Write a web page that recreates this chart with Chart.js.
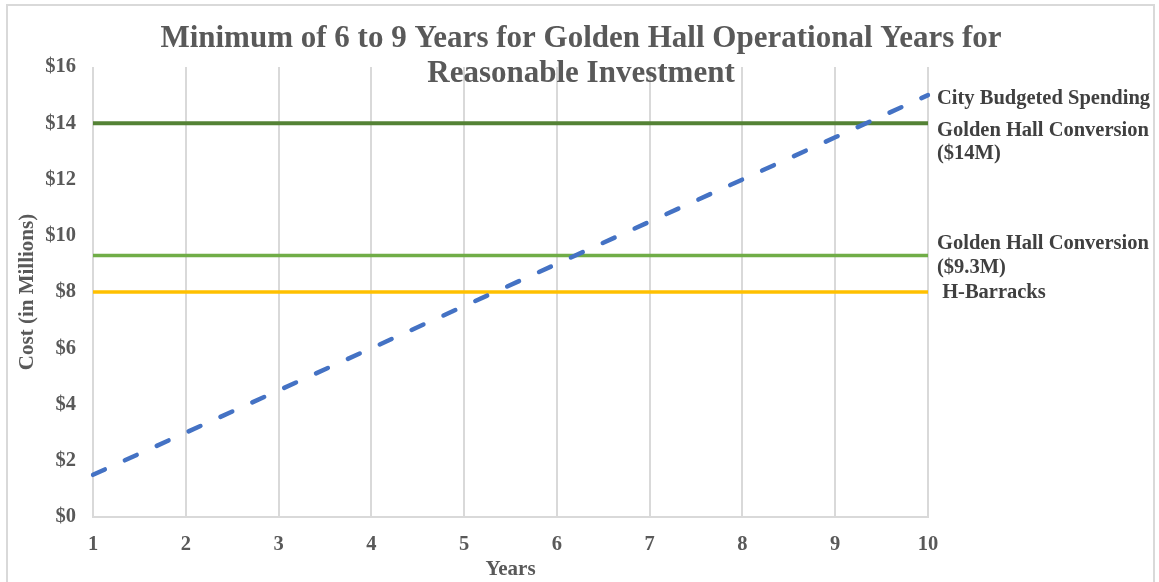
<!DOCTYPE html>
<html>
<head>
<meta charset="utf-8">
<script src="https://cdn.jsdelivr.net/npm/chart.js@4/dist/chart.umd.min.js"></script>
<style>
  html, body { margin: 0; padding: 0; background: #fff; }
  #wrap { position: relative; width: 1159px; height: 582px; overflow: hidden; }
  #frame { position: absolute; left: 6px; top: 4px; width: 1149px; height: 600px; border: 2px solid #d9d9d9; box-sizing: border-box; }
  canvas { position: absolute; left: 0; top: 0; }
</style>
</head>
<body>
<div id="wrap">
  <div id="frame"></div>
  <canvas id="chart" width="1159" height="582"></canvas>
</div>
<script>
// values
const years = ['1', '2', '3', '4', '5', '6', '7', '8', '9', '10'];
const cityBudget = [1.5, 3, 4.5, 6, 7.5, 9, 10.5, 12, 13.5, 15];
const conversion14 = [14, 14, 14, 14, 14, 14, 14, 14, 14, 14];
const conversion93 = [9.3, 9.3, 9.3, 9.3, 9.3, 9.3, 9.3, 9.3, 9.3, 9.3];
const hBarracks = [8, 8, 8, 8, 8, 8, 8, 8, 8, 8];
const yTicks = [0, 2, 4, 6, 8, 10, 12, 14, 16];

const titleLines = ['Minimum of 6 to 9 Years for Golden Hall Operational Years for', 'Reasonable Investment'];
const endLabels = [
  ['City Budgeted Spending'],
  ['Golden Hall Conversion', '($14M)'],
  ['Golden Hall Conversion', '($9.3M)'],
  [' H-Barracks']
];

const serif = '"Liberation Serif", "Times New Roman", serif';
const gray = '#595959';

// where each end label sits relative to its line (px)
const labelPlace = [
  { dy: 4, lh: 23 },
  { dy: 7, lh: 23 },
  { dy: -12, lh: 24 },
  { dy: 1, lh: 23 }
];

const titlePlugin = {
  id: 'bigTitle',
  afterDraw(chart) {
    const ctx = chart.ctx;
    ctx.save();
    ctx.font = 'bold 31px ' + serif;
    ctx.fillStyle = gray;
    ctx.textAlign = 'center';
    ctx.textBaseline = 'middle';
    ctx.fillText(titleLines[0], 581, 39);
    ctx.fillText(titleLines[1], 581, 74);
    ctx.restore();
  }
};

const endLabelPlugin = {
  id: 'endLabels',
  afterDatasetsDraw(chart) {
    const ctx = chart.ctx;
    const yScale = chart.scales.y;
    const x = chart.chartArea.right + 9;
    ctx.save();
    ctx.font = 'bold 20.5px ' + serif;
    ctx.fillStyle = '#404040';
    ctx.textAlign = 'left';
    ctx.textBaseline = 'middle';
    chart.data.datasets.forEach((ds, i) => {
      const last = ds.data[ds.data.length - 1];
      const y0 = yScale.getPixelForValue(last) + labelPlace[i].dy;
      endLabels[i].forEach((line, j) => {
        ctx.fillText(line, x, y0 + j * labelPlace[i].lh);
      });
    });
    ctx.restore();
  }
};

const data = {
  labels: years,
  datasets: [
    {
      label: 'City Budgeted Spending',
      data: cityBudget,
      borderColor: '#4472C4',
      borderWidth: 4.5,
      borderDash: [13, 22],
      borderCapStyle: 'round',
      pointRadius: 0,
      tension: 0
    },
    {
      label: 'Golden Hall Conversion ($14M)',
      data: conversion14,
      borderColor: '#548235',
      borderWidth: 4,
      pointRadius: 0
    },
    {
      label: 'Golden Hall Conversion ($9.3M)',
      data: conversion93,
      borderColor: '#70AD47',
      borderWidth: 3.5,
      pointRadius: 0
    },
    {
      label: 'H-Barracks',
      data: hBarracks,
      borderColor: '#FFC000',
      borderWidth: 3.5,
      pointRadius: 0
    }
  ]
};

const config = {
  type: 'line',
  data: data,
  options: {
    responsive: false,
    animation: false,
    layout: { padding: { left: 7, top: 67, right: 231, bottom: 0 } },
    plugins: {
      legend: { display: false },
      title: { display: false },
      tooltip: { enabled: false }
    },
    scales: {
      x: {
        offset: false,
        grid: { color: '#d9d9d9', lineWidth: 2, drawTicks: false },
        border: { color: '#d9d9d9', width: 2 },
        ticks: {
          color: gray,
          padding: 15,
          maxRotation: 0,
          font: { family: serif, size: 20.5, weight: 'bold' }
        },
        title: {
          display: true,
          text: 'Years',
          color: gray,
          padding: { top: 0, bottom: 0 },
          font: { family: serif, size: 21, weight: 'bold' }
        },
        afterFit(scale) { scale.height = 65; }
      },
      y: {
        min: 0,
        max: 16,
        grid: { display: false, drawTicks: false },
        border: { display: false },
        afterBuildTicks(scale) { scale.ticks = yTicks.map(v => ({ value: v })); },
        ticks: {
          color: gray,
          padding: 17,
          font: { family: serif, size: 20.5, weight: 'bold' },
          callback: (v) => '$' + v
        },
        title: {
          display: true,
          text: 'Cost (in Millions)',
          color: gray,
          padding: { top: 8, bottom: 0 },
          font: { family: serif, size: 21, weight: 'bold' }
        },
        afterFit(scale) { scale.width = 86; }
      }
    }
  },
  plugins: [titlePlugin, endLabelPlugin]
};

const chart = new Chart(document.getElementById('chart').getContext('2d'), config);
</script>
</body>
</html>
